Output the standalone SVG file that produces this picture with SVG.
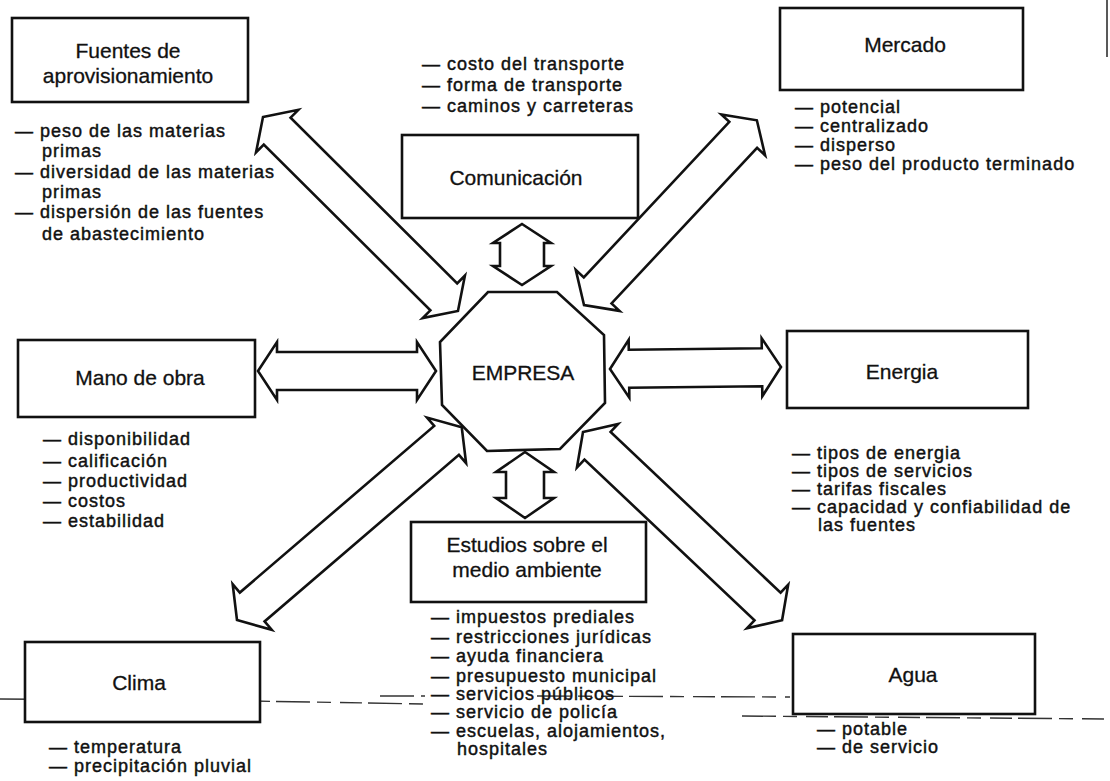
<svg xmlns="http://www.w3.org/2000/svg" width="1110" height="781" viewBox="0 0 1110 781">
  <style>
    .box { fill: #fff; stroke: #111; stroke-width: 2.6; }
    .conn { fill: #fff; stroke: #111; stroke-width: 2.6; stroke-linejoin: miter; }
    .title { font-family: "Liberation Sans", Arial, sans-serif; font-size: 21px; fill: #111; stroke: #111; stroke-width: 0.3; text-anchor: middle; }
    .item { font-family: "Liberation Sans", Arial, sans-serif; font-size: 18px; letter-spacing: 1px; fill: #111; stroke: #111; stroke-width: 0.45; }
    .fold { fill: none; stroke: #333; stroke-width: 1.4; stroke-dasharray: 34 7 14 9 22 6; }
  </style>
  <rect width="1110" height="781" fill="#fff"/>

  <!-- crease marks across the sheet -->
  <g id="sheet-marks">
    <polyline class="fold" points="0,699 250,701 425,704"/>
    <polyline class="fold" points="380,696 425,696"/>
    <polyline class="fold" points="537,696 790,697"/>
    <polyline class="fold" points="742,716 1110,719"/>
    <line x1="1107" y1="0" x2="1107" y2="57" stroke="#222" stroke-width="1.5"/>
  </g>

  <!-- double block arrows linking each factor with the company -->
  <g id="connectors">
    <polygon class="conn" transform="translate(263,117) rotate(44.85)" points="0,0 20,-30 20,-19 255,-19 255,-30 275,0 255,30 255,19 20,19 20,30"/>
    <polygon class="conn" transform="translate(584,305) rotate(-46.9)" points="0,0 20,-30 20,-19 233,-19 233,-30 253,0 233,30 233,19 20,19 20,30"/>
    <polygon class="conn" transform="translate(237,620) rotate(-40.6)" points="0,0 20,-30 20,-19 276,-19 276,-30 296,0 276,30 276,19 20,19 20,30"/>
    <polygon class="conn" transform="translate(583,432) rotate(43.4)" points="0,0 20,-30 20,-19 254,-19 254,-30 274,0 254,30 254,19 20,19 20,30"/>
    <polygon class="conn" transform="translate(258,371)" points="0,0 19,-29 19,-19 159,-19 159,-29 178,0 159,29 159,19 19,19 19,29"/>
    <polygon class="conn" transform="translate(610,369) rotate(-0.67)" points="0,0 19,-29 19,-19 152,-19 152,-29 171,0 152,29 152,19 19,19 19,29"/>
    <polygon class="conn" transform="translate(522,224) rotate(90)" points="0,0 19,-29 19,-22 42,-22 42,-29 61,0 42,29 42,22 19,22 19,29"/>
    <polygon class="conn" transform="translate(525,452) rotate(90)" points="0,0 20,-29 20,-19 46,-19 46,-29 66,0 46,29 46,19 20,19 20,29"/>
  </g>

  <g id="empresa">
    <polygon class="box" points="488,292 557,292 604,335 605,403 560,449 487,451 442,405 440,342"/>
    <text class="title" x="523" y="380">EMPRESA</text>
  </g>

  <g id="fuentes">
    <rect class="box" x="12" y="18" width="236" height="84"/>
    <text class="title" x="128" y="58">Fuentes de</text>
    <text class="title" x="128" y="83">aprovisionamiento</text>
    <text class="item" x="15" y="137">— peso de las materias</text>
    <text class="item" x="42" y="157">primas</text>
    <text class="item" x="15" y="178">— diversidad de las materias</text>
    <text class="item" x="42" y="198">primas</text>
    <text class="item" x="15" y="218">— dispersión de las fuentes</text>
    <text class="item" x="42" y="240">de abastecimiento</text>
  </g>

  <g id="comunicacion">
    <text class="item" x="422" y="70">— costo del transporte</text>
    <text class="item" x="422" y="91">— forma de transporte</text>
    <text class="item" x="422" y="112">— caminos y carreteras</text>
    <rect class="box" x="402" y="135" width="236" height="83"/>
    <text class="title" x="516" y="185">Comunicación</text>
  </g>

  <g id="mercado">
    <rect class="box" x="780" y="8" width="243" height="82"/>
    <text class="title" x="905" y="52">Mercado</text>
    <text class="item" x="795" y="113">— potencial</text>
    <text class="item" x="795" y="132">— centralizado</text>
    <text class="item" x="795" y="151">— disperso</text>
    <text class="item" x="795" y="170">— peso del producto terminado</text>
  </g>

  <g id="mano-de-obra">
    <rect class="box" x="18" y="340" width="237" height="77"/>
    <text class="title" x="140" y="385">Mano de obra</text>
    <text class="item" x="43" y="445">— disponibilidad</text>
    <text class="item" x="43" y="467">— calificación</text>
    <text class="item" x="43" y="487">— productividad</text>
    <text class="item" x="43" y="507">— costos</text>
    <text class="item" x="43" y="527">— estabilidad</text>
  </g>

  <g id="energia">
    <rect class="box" x="787" y="331" width="241" height="77"/>
    <text class="title" x="902" y="379">Energia</text>
    <text class="item" x="792" y="459">— tipos de energia</text>
    <text class="item" x="792" y="477">— tipos de servicios</text>
    <text class="item" x="792" y="495">— tarifas fiscales</text>
    <text class="item" x="792" y="513">— capacidad y confiabilidad de</text>
    <text class="item" x="818" y="531">las fuentes</text>
  </g>

  <g id="estudios">
    <rect class="box" x="411" y="522" width="235" height="80"/>
    <text class="title" x="527" y="552">Estudios sobre el</text>
    <text class="title" x="527" y="577">medio ambiente</text>
    <text class="item" x="431" y="623">— impuestos prediales</text>
    <text class="item" x="431" y="643">— restricciones jurídicas</text>
    <text class="item" x="431" y="662">— ayuda financiera</text>
    <text class="item" x="431" y="682">— presupuesto municipal</text>
    <text class="item" x="431" y="700">— servicios públicos</text>
    <text class="item" x="431" y="718">— servicio de policía</text>
    <text class="item" x="431" y="737">— escuelas, alojamientos,</text>
    <text class="item" x="457" y="755">hospitales</text>
  </g>

  <g id="clima">
    <rect class="box" x="25" y="642" width="235" height="80"/>
    <text class="title" x="139" y="690">Clima</text>
    <text class="item" x="49" y="753">— temperatura</text>
    <text class="item" x="49" y="772">— precipitación pluvial</text>
  </g>

  <g id="agua">
    <rect class="box" x="793" y="634" width="242" height="80"/>
    <text class="title" x="913" y="682">Agua</text>
    <text class="item" x="817" y="735">— potable</text>
    <text class="item" x="817" y="753">— de servicio</text>
  </g>
</svg>
